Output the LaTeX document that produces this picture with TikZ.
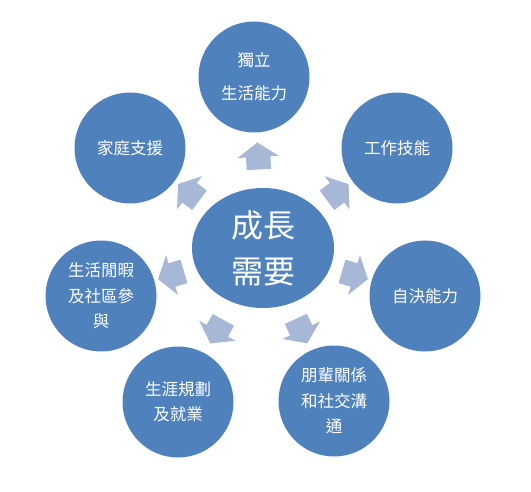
\documentclass[tikz,border=0pt]{standalone}
\usepackage{fontspec}
\setmainfont{Noto Sans CJK TC}
\usetikzlibrary{shapes.geometric,shapes.arrows}

\definecolor{needblue}{RGB}{79,129,189}
\definecolor{growblue}{RGB}{167,183,214}

\begin{document}
\begin{tikzpicture}[x=1pt, y=1pt,
    core/.style = {ellipse, fill=needblue, text=white, minimum width=142pt, minimum height=120pt, inner sep=0pt, align=center, font=\fontsize{32}{46}\selectfont},
    need/.style = {circle, fill=needblue, text=white, minimum size=111pt, inner sep=0pt, align=center, font=\fontsize{16.5}{25.5}\selectfont},
    growarrow/.style = {single arrow, fill=growblue, inner xsep=0pt, inner ysep=12pt, minimum height=27pt, single arrow head extend=8.5pt, single arrow tip angle=110, sloped, allow upside down, midway}]
    \useasboundingbox (0,0) rectangle (531,491);

    \node[core] (n_c) at (263,243) {成長\\需要};
    \node[need] (n_1) at (254,414) {獨立\\[7.5pt]生活能力};
    \node[need] (n_2) at (397,343) {工作技能};
    \node[need] (n_3) at (425,195) {自決能力};
    \node[need] (n_4) at (334,90) {朋輩關係\\和社交溝\\通};
    \node[need] (n_5) at (178,89) {生涯規劃\\及就業};
    \node[need] (n_6) at (101,195) {生活閒暇\\及社區參\\與};
    \node[need] (n_7) at (130,343) {家庭支援};

    \foreach \i in {1,...,7}
        \path (n_c) -- node[growarrow] {} (n_\i);
\end{tikzpicture}
\end{document}
